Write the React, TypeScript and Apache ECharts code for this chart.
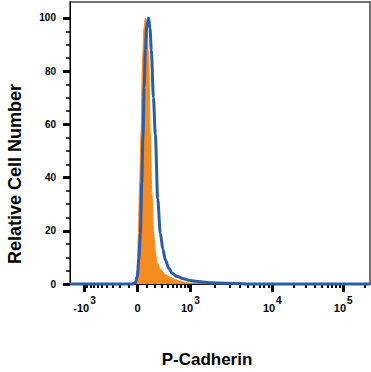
import React, { useEffect, useRef } from 'react';
import * as echarts from 'echarts';

// Isotype control (orange, filled): fluorescence intensity vs relative count (%)
const isoX = [-1500, -40, -15, 0, 11, 25, 40, 58, 72, 88, 105, 126, 147, 165, 188, 210, 233, 280, 360, 450, 555, 700, 830, 1100, 1500, 240000];
const isoY = [0, 0, 1, 5, 19, 38, 56, 85, 96, 100, 97, 86, 56, 34, 19, 12, 8, 5.5, 3.5, 2.5, 1.6, 1, 0.6, 0.2, 0, 0];

// P-Cadherin antibody (blue line)
const abX = [-1500, -60, -22, 0, 15, 33, 48, 62, 75, 88, 105, 126, 142, 159, 185, 210, 242, 280, 320, 360, 420, 486, 600, 770, 950, 1150, 1750, 3000, 5000, 240000];
const abY = [0, 0, 0.5, 3, 9, 19, 38, 56, 74, 88, 97, 100, 96, 88, 70, 56, 32, 19, 13, 9, 6, 4, 2.8, 2, 1.4, 1, 0.5, 0.3, 0, 0];

const xMajorTicks = [-1000, 0, 1000, 10000, 100000];
const xMajorLabels = ['{z| }{n|-10}{s|3}', '{z| }{n|0}', '{z| }{n|10}{s|3}', '{z| }{n|10}{s|4}', '{z| }{n|10}{s|5}'];
const xMinorTicks = [
  -900, -800, -700, -600, -500, -400, -300, -200, -100,
  100, 200, 300, 400, 500, 600, 700, 800, 900,
  2000, 3000, 4000, 5000, 6000, 7000, 8000, 9000,
  20000, 30000, 40000, 50000, 60000, 70000, 80000, 90000,
  200000,
];
const yMajorTicks = [0, 20, 40, 60, 80, 100];
const yMinorTicks = [5, 10, 15, 25, 30, 35, 45, 50, 55, 65, 70, 75, 85, 90, 95];

const X_MIN = -1500;
const X_MAX = 240000;
const Y_MAX = 106;

const ORANGE = '#F68B1F';
const BLUE = '#2A5CA8';
const FONT = '"Liberation Sans", Arial, Helvetica, sans-serif';

// Logicle-like (biexponential) display transform
const W = 300;
const LIN_SPAN = 53;
const K = LIN_SPAN / Math.asinh(1000 / W);
const DEC1 = 82;
const DEC2 = 71;
function T(v: number): number {
  const s = Math.sign(v);
  const a = Math.abs(v);
  let t: number;
  if (a <= 1000) t = K * Math.asinh(a / W);
  else if (a <= 10000) t = LIN_SPAN + DEC1 * Math.log10(a / 1000);
  else t = LIN_SPAN + DEC1 + DEC2 * Math.log10(a / 10000);
  return s * t;
}

function labelFor(val: number): string {
  for (let i = 0; i < xMajorTicks.length; i++) {
    if (Math.abs(T(xMajorTicks[i]) - val) < 1e-6) return xMajorLabels[i];
  }
  return '';
}

export default function App() {
  const ref = useRef<HTMLDivElement>(null);
  useEffect(() => {
    if (!ref.current) return;
    const chart = echarts.init(ref.current, undefined, { renderer: 'svg' });
    const xBase = {
      type: 'value' as const,
      min: T(X_MIN),
      max: T(X_MAX),
      position: 'bottom' as const,
      splitLine: { show: false },
    };
    const yBase = {
      type: 'value' as const,
      min: 0,
      max: Y_MAX,
      position: 'left' as const,
      splitLine: { show: false },
    };
    chart.setOption({
      animation: false,
      grid: {
        left: 70, right: 1, top: 2, bottom: 88,
        show: true, borderColor: '#444', borderWidth: 1.5,
      },
      xAxis: [
        {
          ...xBase,
          axisLine: { show: true, onZero: false, lineStyle: { color: '#000', width: 1 } },
          axisTick: {
            show: true, customValues: xMajorTicks.map(T), length: 8,
            lineStyle: { color: '#000', width: 3 },
          },
          axisLabel: {
            show: true,
            customValues: xMajorTicks.map(T),
            formatter: (v: number) => labelFor(v),
            margin: 11,
            color: '#000',
            rich: {
              z: { fontSize: 1, lineHeight: 18 },
              n: { fontSize: 11, fontWeight: 'bold', fontFamily: FONT, color: '#000', lineHeight: 11, verticalAlign: 'bottom' },
              s: { fontSize: 10, fontWeight: 'bold', fontFamily: FONT, color: '#000', lineHeight: 10, verticalAlign: 'top', padding: [0, 0, 0, 1] },
            },
          },
        },
        {
          ...xBase,
          axisLine: { show: false, onZero: false },
          axisTick: {
            show: true, customValues: xMinorTicks.map(T), length: 4,
            lineStyle: { color: '#000', width: 2 },
          },
          axisLabel: { show: false },
        },
      ],
      yAxis: [
        {
          ...yBase,
          axisLine: { show: true, onZero: false, lineStyle: { color: '#000', width: 1 } },
          axisTick: {
            show: true, customValues: yMajorTicks, length: 7,
            lineStyle: { color: '#000', width: 3 },
          },
          axisLabel: {
            show: true, customValues: yMajorTicks, margin: 14,
            fontSize: 10, fontWeight: 'bold', fontFamily: FONT, color: '#000',
          },
        },
        {
          ...yBase,
          axisLine: { show: false, onZero: false },
          axisTick: {
            show: true, customValues: yMinorTicks, length: 4,
            lineStyle: { color: '#000', width: 1.5 },
          },
          axisLabel: { show: false },
        },
      ],
      series: [
        {
          type: 'line',
          xAxisIndex: 0, yAxisIndex: 0,
          data: isoX.map((x, i) => [T(x), isoY[i]]),
          showSymbol: false,
          smooth: 0.3,
          smoothMonotone: 'x',
          lineStyle: { color: ORANGE, width: 1 },
          areaStyle: { color: ORANGE, opacity: 1 },
          z: 2,
        },
        {
          type: 'line',
          xAxisIndex: 0, yAxisIndex: 0,
          data: abX.map((x, i) => [T(x), abY[i]]),
          showSymbol: false,
          smooth: 0.3,
          smoothMonotone: 'x',
          clip: false,
          lineStyle: { color: BLUE, width: 3 },
          z: 3,
        },
      ],
      graphic: [
        {
          type: 'text', x: 15, y: 174, rotation: Math.PI / 2,
          style: {
            text: 'Relative Cell Number', fill: '#000',
            font: `bold 18px ${FONT}`,
            align: 'center', verticalAlign: 'middle',
            textAlign: 'center', textVerticalAlign: 'middle',
          },
        },
        {
          type: 'text', x: 207, y: 359,
          style: {
            text: 'P-Cadherin', fill: '#000',
            font: `bold 17px ${FONT}`,
            align: 'center', verticalAlign: 'middle',
            textAlign: 'center', textVerticalAlign: 'middle',
          },
        },
      ],
    });
    return () => chart.dispose();
  }, []);
  return (
    <div
      ref={ref}
      style={{ position: 'fixed', left: 0, top: 0, width: 371, height: 372, background: '#fff' }}
    />
  );
}
